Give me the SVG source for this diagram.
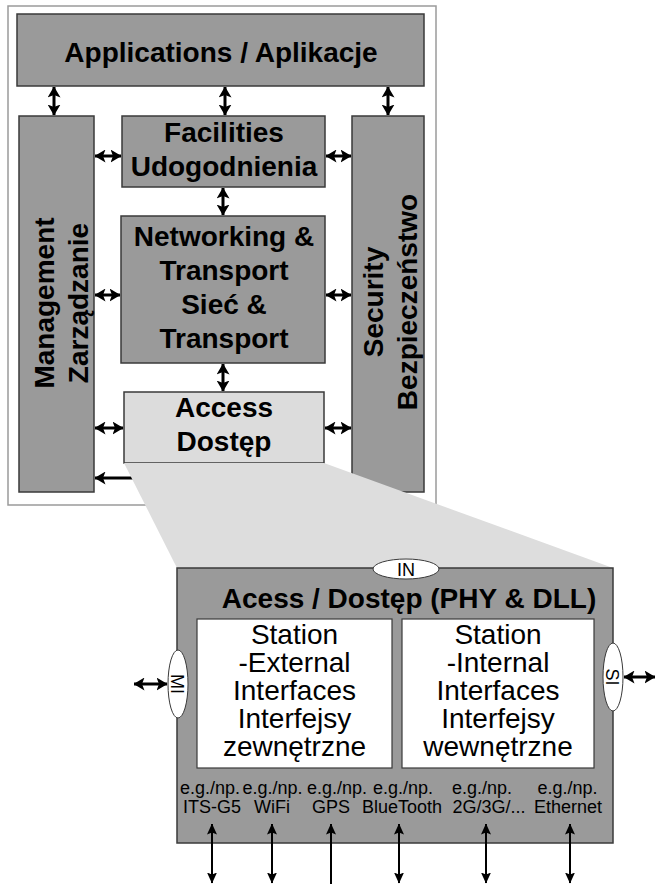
<svg xmlns="http://www.w3.org/2000/svg" width="655" height="884" viewBox="0 0 655 884">
  <style>
    .box { fill: #9a9a9a; stroke: #3a3a3a; stroke-width: 1.5; }
    .light { fill: #dcdcdc; stroke: #3a3a3a; stroke-width: 1.5; }
    .panel { fill: #ffffff; stroke: #3a3a3a; stroke-width: 1.2; }
    .oval { fill: #ffffff; stroke: #3a3a3a; stroke-width: 1; }
    .lbl { font-family: "Liberation Sans", Arial, sans-serif; font-weight: bold; font-size: 28px; fill: #000; text-anchor: middle; }
    .reg { font-family: "Liberation Sans", Arial, sans-serif; font-size: 28px; fill: #000; text-anchor: middle; }
    .small { font-family: "Liberation Sans", Arial, sans-serif; font-size: 18px; fill: #000; text-anchor: middle; }
    .conn { stroke: #000; stroke-width: 3; fill: none; }
    .conn2 { stroke: #000; stroke-width: 2; fill: none; }
  </style>
  <defs>
    <marker id="head" viewBox="0 0 11 13" refX="10.5" refY="6.5" markerWidth="11" markerHeight="13" markerUnits="userSpaceOnUse" orient="auto-start-reverse">
      <path d="M0,0 L11,6.5 L0,13 L2.5,6.5 z" fill="#000"/>
    </marker>
    <marker id="headS" viewBox="0 0 11 10" refX="10.5" refY="5" markerWidth="11" markerHeight="10" markerUnits="userSpaceOnUse" orient="auto-start-reverse">
      <path d="M0,0 L11,5 L0,10 L2,5 z" fill="#000"/>
    </marker>
  </defs>

  <!-- station frame -->
  <rect x="8" y="6" width="428" height="499" fill="#ffffff" stroke="#9a9a9a" stroke-width="1.5"/>

  <g id="applications">
    <rect class="box" x="17" y="14" width="407" height="72"/>
    <text class="lbl" x="221" y="62">Applications / Aplikacje</text>
  </g>

  <g id="management">
    <rect class="box" x="19" y="116" width="75" height="376"/>
    <text class="lbl" transform="translate(54,303) rotate(-90)">Management</text>
    <text class="lbl" transform="translate(88,303) rotate(-90)">Zarządzanie</text>
  </g>

  <g id="facilities">
    <rect class="box" x="122" y="116" width="203" height="71"/>
    <text class="lbl" x="224" y="142">Facilities</text>
    <text class="lbl" x="224" y="176">Udogodnienia</text>
  </g>

  <g id="networking">
    <rect class="box" x="121" y="216" width="204" height="147"/>
    <text class="lbl" x="224" y="246">Networking &amp;</text>
    <text class="lbl" x="224" y="280">Transport</text>
    <text class="lbl" x="224" y="314">Sieć &amp;</text>
    <text class="lbl" x="224" y="348">Transport</text>
  </g>

  <g id="access">
    <rect class="light" x="124" y="392" width="200" height="71"/>
    <text class="lbl" x="224" y="417">Access</text>
    <text class="lbl" x="224" y="451">Dostęp</text>
  </g>

  <g id="security">
    <rect class="box" x="352" y="116" width="72" height="376"/>
    <text class="lbl" transform="translate(383,302) rotate(-90)">Security</text>
    <text class="lbl" transform="translate(417,302) rotate(-90)">Bezpieczeństwo</text>
  </g>

  <g id="connectors">
    <!-- applications to the columns below -->
    <line class="conn" x1="54" y1="87" x2="54" y2="115" marker-start="url(#head)" marker-end="url(#head)"/>
    <line class="conn" x1="225" y1="87" x2="225" y2="115" marker-start="url(#head)" marker-end="url(#head)"/>
    <line class="conn" x1="388" y1="87" x2="388" y2="115" marker-start="url(#head)" marker-end="url(#head)"/>
    <!-- stack between layers -->
    <line class="conn" x1="223" y1="188" x2="223" y2="215" marker-start="url(#head)" marker-end="url(#head)"/>
    <line class="conn" x1="223" y1="364" x2="223" y2="391" marker-start="url(#head)" marker-end="url(#head)"/>
    <!-- management side -->
    <line class="conn" x1="95" y1="156" x2="121" y2="156" marker-start="url(#head)" marker-end="url(#head)"/>
    <line class="conn" x1="95" y1="295" x2="120" y2="295" marker-start="url(#head)" marker-end="url(#head)"/>
    <line class="conn" x1="95" y1="428" x2="123" y2="428" marker-start="url(#head)" marker-end="url(#head)"/>
    <!-- security side -->
    <line class="conn" x1="326" y1="156" x2="351" y2="156" marker-start="url(#head)" marker-end="url(#head)"/>
    <line class="conn" x1="326" y1="295" x2="351" y2="295" marker-start="url(#head)" marker-end="url(#head)"/>
    <line class="conn" x1="325" y1="428" x2="351" y2="428" marker-start="url(#head)" marker-end="url(#head)"/>
    <!-- access detail to management -->
    <line class="conn" x1="145" y1="478" x2="95" y2="478" marker-end="url(#head)"/>
  </g>

  <!-- zoom projection of the access layer -->
  <polygon points="124,463 324,463 613,568 177,568" fill="#dddddd"/>

  <g id="access-detail">
    <rect class="box" x="177" y="568" width="436" height="275"/>
    <text class="lbl" x="409" y="608">Acess / Dostęp (PHY &amp; DLL)</text>
  </g>

  <g id="external-interfaces">
    <rect class="panel" x="197" y="619" width="195" height="149"/>
    <text class="reg" x="294.5" y="644">Station</text>
    <text class="reg" x="294.5" y="672">-External</text>
    <text class="reg" x="294.5" y="700">Interfaces</text>
    <text class="reg" x="294.5" y="728">Interfejsy</text>
    <text class="reg" x="294.5" y="756">zewnętrzne</text>
  </g>

  <g id="internal-interfaces">
    <rect class="panel" x="402" y="619" width="192" height="149"/>
    <text class="reg" x="498" y="644">Station</text>
    <text class="reg" x="498" y="672">-Internal</text>
    <text class="reg" x="498" y="700">Interfaces</text>
    <text class="reg" x="498" y="728">Interfejsy</text>
    <text class="reg" x="498" y="756">wewnętrzne</text>
  </g>

  <g id="sap-in">
    <ellipse class="oval" cx="406" cy="569" rx="33" ry="10"/>
    <text class="small" x="406" y="576">IN</text>
  </g>

  <g id="sap-mi">
    <ellipse class="oval" cx="178" cy="684" rx="10" ry="34"/>
    <text class="small" transform="translate(177,684) rotate(90)" dominant-baseline="central">MI</text>
  </g>

  <g id="sap-si">
    <ellipse class="oval" cx="613" cy="677" rx="10" ry="34"/>
    <text class="small" transform="translate(612,677) rotate(90)" dominant-baseline="central">SI</text>
  </g>

  <g id="technologies">
    <text class="small" x="210" y="794">e.g./np.</text>
    <text class="small" x="212" y="813">ITS-G5</text>
    <text class="small" x="272.5" y="794">e.g./np.</text>
    <text class="small" x="272" y="813">WiFi</text>
    <text class="small" x="337" y="794">e.g./np.</text>
    <text class="small" x="331" y="813">GPS</text>
    <text class="small" x="403" y="794">e.g./np.</text>
    <text class="small" x="402" y="813">BlueTooth</text>
    <text class="small" x="482" y="794">e.g./np.</text>
    <text class="small" x="489" y="813">2G/3G/...</text>
    <text class="small" x="567.5" y="794">e.g./np.</text>
    <text class="small" x="568" y="813">Ethernet</text>
  </g>

  <g id="connectors-detail">
    <line class="conn" x1="134" y1="684" x2="167" y2="684" marker-start="url(#head)" marker-end="url(#head)"/>
    <line class="conn" x1="624" y1="677" x2="655" y2="677" marker-start="url(#head)" marker-end="url(#head)"/>
    <line class="conn2" x1="212" y1="824" x2="212" y2="883" marker-start="url(#headS)" marker-end="url(#headS)"/>
    <line class="conn2" x1="272" y1="824" x2="272" y2="883" marker-start="url(#headS)" marker-end="url(#headS)"/>
    <line class="conn2" x1="331" y1="824" x2="331" y2="884" marker-start="url(#headS)"/>
    <line class="conn2" x1="399" y1="824" x2="399" y2="883" marker-start="url(#headS)" marker-end="url(#headS)"/>
    <line class="conn2" x1="486" y1="824" x2="486" y2="883" marker-start="url(#headS)" marker-end="url(#headS)"/>
    <line class="conn2" x1="570" y1="824" x2="570" y2="883" marker-start="url(#headS)" marker-end="url(#headS)"/>
  </g>
</svg>
